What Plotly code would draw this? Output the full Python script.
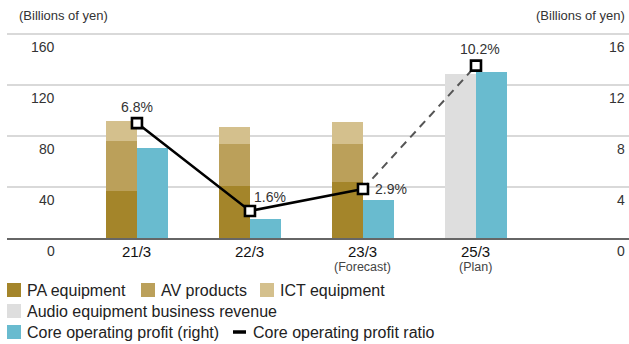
import plotly.graph_objects as go

# ---- data -------------------------------------------------------------
categories = ["21/3", "22/3", "23/3", "25/3"]
sub_labels = ["", "", "(Forecast)", "(Plan)"]
pa_equipment = [37, 41, 44, None]
av_products = [39, 32.5, 30, None]
ict_equipment = [16, 14, 17, None]
audio_revenue = [None, None, None, 128.5]
core_profit = [7.1, 1.5, 3.0, 13.0]          # right axis, billions of yen
profit_ratio = [6.8, 1.6, 2.9, 10.2]         # %
left_ticks = [0, 40, 80, 120, 160]
right_ticks = [0, 4, 8, 12, 16]

# ---- styling ----------------------------------------------------------
FONT = "Liberation Sans, Arial, sans-serif"
C_PA = "#A4852A"
C_AV = "#BBA05A"
C_ICT = "#D4C08D"
C_GRAY = "#DEDEDE"
C_CYAN = "#69BBCF"
W, H = 629, 344
ML, MR, MT, MB = 7, 0, 33, 106
PW, PH = W - ML - MR, H - MT - MB
BASE_Y = H - MB  # pixel row of the zero line


def px_x(p):
    return (p - ML) / PW


def px_y(p):
    return (BASE_Y - p) / PH


xs = list(range(len(categories)))
bw = 0.274

fig = go.Figure()

for name, vals, col in [("PA equipment", pa_equipment, C_PA),
                        ("AV products", av_products, C_AV),
                        ("ICT equipment", ict_equipment, C_ICT),
                        ("Audio equipment business revenue", audio_revenue, C_GRAY)]:
    fig.add_trace(go.Bar(x=xs, y=vals, name=name, marker_color=col,
                         marker_line_width=0, width=bw, offset=-bw,
                         yaxis="y", showlegend=False))

fig.add_trace(go.Bar(x=xs, y=core_profit, name="Core operating profit (right)",
                     marker_color=C_CYAN, marker_line_width=0, width=bw, offset=0,
                     yaxis="y2", showlegend=False))

# profit ratio line: actual/forecast solid, plan dashed
fig.add_trace(go.Scatter(x=xs[:3], y=profit_ratio[:3], mode="lines",
                         line=dict(color="#000000", width=2.6),
                         yaxis="y3", showlegend=False))
fig.add_trace(go.Scatter(x=xs[2:], y=profit_ratio[2:], mode="lines",
                         line=dict(color="#555555", width=2, dash="8px,6px"),
                         yaxis="y3", showlegend=False))
fig.add_trace(go.Scatter(x=xs, y=profit_ratio, mode="markers",
                         marker=dict(symbol="square", size=10, color="white",
                                     line=dict(color="#000000", width=2.6)),
                         yaxis="y3", showlegend=False))

annotations = []
shapes = []

# ratio labels
label_shift = [(0, 16), (20, 14), (28, 0), (4, 17)]
for i, v in enumerate(profit_ratio):
    dx, dy = label_shift[i]
    annotations.append(dict(x=xs[i], y=v, xref="x", yref="y3", text=f"{v}%",
                            showarrow=False, xshift=dx, yshift=dy,
                            font=dict(family=FONT, size=14, color="#333333")))

# axis tick labels (sit just below each gridline)
for t in left_ticks:
    annotations.append(dict(x=px_x(57), y=t, xref="paper", yref="y", text=str(t),
                            showarrow=False, xanchor="right", yanchor="middle",
                            yshift=-13, font=dict(family=FONT, size=14, color="#333333")))
for t in right_ticks:
    annotations.append(dict(x=px_x(627), y=t, xref="paper", yref="y2", text=str(t),
                            showarrow=False, xanchor="right", yanchor="middle",
                            yshift=-13, font=dict(family=FONT, size=14, color="#333333")))

# unit labels
annotations.append(dict(x=px_x(17), y=px_y(16), xref="paper", yref="paper",
                        text="(Billions of yen)", showarrow=False, xanchor="left",
                        yanchor="middle", font=dict(family=FONT, size=13, color="#333333")))
annotations.append(dict(x=px_x(627), y=px_y(16), xref="paper", yref="paper",
                        text="(Billions of yen)", showarrow=False, xanchor="right",
                        yanchor="middle", font=dict(family=FONT, size=13, color="#333333")))

# category labels
for i, (c, s) in enumerate(zip(categories, sub_labels)):
    annotations.append(dict(x=xs[i], y=px_y(251), xref="x", yref="paper", text=c,
                            showarrow=False, yanchor="middle",
                            font=dict(family=FONT, size=15, color="#111111")))
    if s:
        annotations.append(dict(x=xs[i], y=px_y(267), xref="x", yref="paper", text=s,
                                showarrow=False, yanchor="middle",
                                font=dict(family=FONT, size=12.5, color="#444444")))

# legend drawn as swatches + labels
legend_items = [
    ("box", C_PA, "PA equipment", 7, 290),
    ("box", C_AV, "AV products", 141, 290),
    ("box", C_ICT, "ICT equipment", 260, 290),
    ("box", C_GRAY, "Audio equipment business revenue", 7, 311),
    ("box", C_CYAN, "Core operating profit (right)", 7, 332),
    ("line", "#000000", "Core operating profit ratio", 233, 332),
]
for kind, col, text, x0, yc in legend_items:
    if kind == "box":
        shapes.append(dict(type="rect", xref="paper", yref="paper",
                           x0=px_x(x0), x1=px_x(x0 + 14), y0=px_y(yc - 7), y1=px_y(yc + 7),
                           fillcolor=col, line=dict(width=0)))
    else:
        shapes.append(dict(type="line", xref="paper", yref="paper",
                           x0=px_x(x0), x1=px_x(x0 + 13), y0=px_y(yc), y1=px_y(yc),
                           line=dict(color=col, width=3.5)))
    annotations.append(dict(x=px_x(x0 + 18), y=px_y(yc), xref="paper", yref="paper",
                            text=text, showarrow=False, xanchor="left", yanchor="middle",
                            font=dict(family=FONT, size=16, color="#222222")))

fig.update_layout(
    width=W, height=H,
    margin=dict(l=ML, r=MR, t=MT, b=MB, pad=0),
    paper_bgcolor="white", plot_bgcolor="white",
    barmode="stack", bargap=0,
    showlegend=False,
    xaxis=dict(range=[-1.150, 4.354], showgrid=False, zeroline=False,
               showticklabels=False, ticks="", showline=True,
               linecolor="#666666", linewidth=1.5, fixedrange=True),
    yaxis=dict(range=[0, 161], tickvals=left_ticks, showticklabels=False,
               showgrid=True, gridcolor="#D9D9D9", gridwidth=1.5,
               zeroline=False, ticks=""),
    yaxis2=dict(range=[0, 16.1], overlaying="y", side="right", showgrid=False,
                showticklabels=False, zeroline=False, ticks=""),
    yaxis3=dict(range=[0, 12.13], overlaying="y", showgrid=False,
                showticklabels=False, zeroline=False, ticks="", visible=False),
    annotations=annotations,
    shapes=shapes,
)

fig.write_html("out.html")
